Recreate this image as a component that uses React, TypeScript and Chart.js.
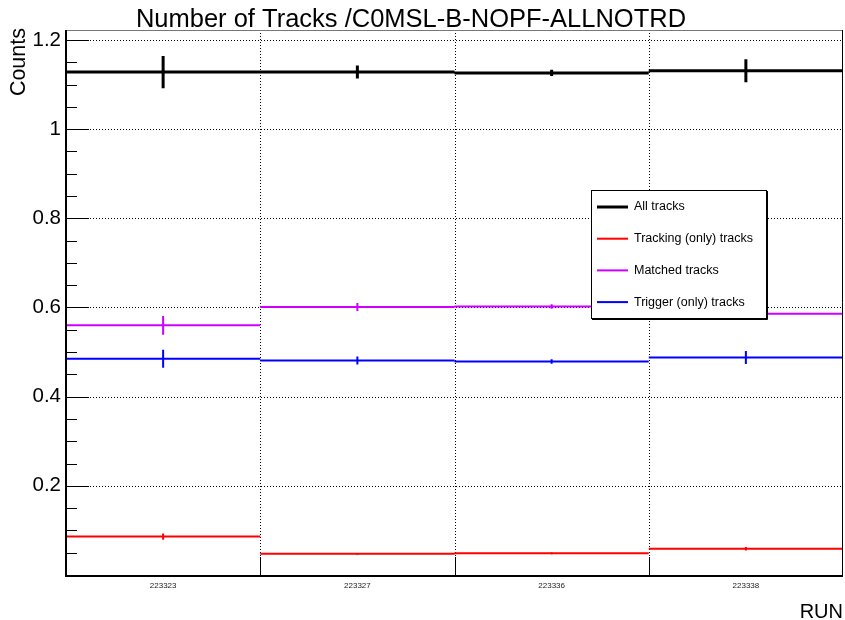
import React, { useEffect, useRef } from 'react';
import { Chart, registerables } from 'chart.js';
Chart.register(...registerables);

const runs = ['223323', '223327', '223336', '223338'];
const seriesNames = ['All tracks', 'Tracking (only) tracks', 'Matched tracks', 'Trigger (only) tracks'];
const allTracks = [1.128, 1.128, 1.126, 1.131];
const allTracksErr = [0.036, 0.0146, 0.007, 0.026];
const trackingOnly = [0.0863, 0.0475, 0.0487, 0.0587];
const trackingOnlyErr = [0.007, 0.002, 0.002, 0.004];
const matched = [0.56, 0.601, 0.602, 0.5857];
const matchedErr = [0.021, 0.009, 0.005, 0.013];
const triggerOnly = [0.485, 0.481, 0.4787, 0.4877];
const triggerOnlyErr = [0.02, 0.009, 0.005, 0.0146];
const yTicks = [0.2, 0.4, 0.6, 0.8, 1, 1.2];
const yTickLabels = ['0.2', '0.4', '0.6', '0.8', '1', '1.2'];
const yMinorStep = 0.05;
const yMin = 0;
const yMax = 1.2224;

const FONT = "'Liberation Sans', Arial, Helvetica, sans-serif";
const colors = ['#000000', '#ff0000', '#cc00ff', '#0000ff'];
const widths = [3, 2, 2, 2];

function stepData(vals: number[]) {
  const out: any[] = [];
  vals.forEach((v, i) => {
    out.push({ x: i, y: v }, { x: i + 1, y: v }, { x: i + 1, y: null });
  });
  return out;
}
function errData(vals: number[], errs: number[]) {
  const out: any[] = [];
  vals.forEach((v, i) => {
    out.push({ x: i + 0.5, y: v - errs[i] }, { x: i + 0.5, y: v + errs[i] }, { x: i + 0.5, y: null });
  });
  return out;
}

const rootStyle = {
  id: 'rootStyle',
  beforeDatasetsDraw(chart: any) {
    const { ctx, chartArea: a, scales } = chart;
    const x = scales.x, y = scales.y;
    ctx.save();
    ctx.strokeStyle = '#000';
    ctx.lineWidth = 1;
    ctx.setLineDash([1, 2]);
    yTicks.forEach((v) => {
      const py = Math.round(y.getPixelForValue(v)) + 0.5;
      ctx.beginPath();
      ctx.moveTo(a.left, py);
      ctx.lineTo(a.right, py);
      ctx.stroke();
    });
    for (let i = 1; i < runs.length; i++) {
      const px = Math.round(x.getPixelForValue(i)) + 0.5;
      ctx.beginPath();
      ctx.moveTo(px, a.top);
      ctx.lineTo(px, a.bottom);
      ctx.stroke();
    }
    ctx.setLineDash([]);
    for (let i = 1; i < runs.length; i++) {
      const px = Math.round(x.getPixelForValue(i)) + 0.5;
      ctx.beginPath();
      ctx.moveTo(px, a.bottom - 18);
      ctx.lineTo(px, a.bottom);
      ctx.stroke();
    }
    ctx.restore();
  },
  afterDatasetsDraw(chart: any) {
    const { ctx, chartArea: a, scales } = chart;
    const y = scales.y;
    ctx.save();
    // frame
    ctx.strokeStyle = '#777';
    ctx.lineWidth = 1;
    ctx.beginPath();
    ctx.moveTo(a.left, a.top + 0.5);
    ctx.lineTo(a.right, a.top + 0.5);
    ctx.stroke();
    ctx.strokeStyle = '#000';
    ctx.beginPath();
    ctx.moveTo(a.right - 0.5, a.top);
    ctx.lineTo(a.right - 0.5, a.bottom);
    ctx.stroke();
    ctx.lineWidth = 2;
    ctx.beginPath();
    ctx.moveTo(a.left, a.top);
    ctx.lineTo(a.left, a.bottom + 1);
    ctx.lineTo(a.right, a.bottom + 1);
    ctx.stroke();
    // y ticks
    ctx.lineWidth = 1;
    ctx.strokeStyle = '#000';
    for (let v = yMinorStep; v <= yMax + 1e-9; v += yMinorStep) {
      const vv = Math.round(v * 100) / 100;
      const major = yTicks.some((t) => Math.abs(t - vv) < 1e-6);
      const py = Math.round(y.getPixelForValue(vv)) + 0.5;
      ctx.beginPath();
      ctx.moveTo(a.left, py);
      ctx.lineTo(a.left + (major ? 23 : 11), py);
      ctx.stroke();
    }
    // legend
    const lx = 591, ly = 190, lw = 175, lh = 128;
    ctx.fillStyle = '#fff';
    ctx.fillRect(lx, ly, lw, lh);
    ctx.strokeStyle = '#000';
    ctx.lineWidth = 1;
    ctx.strokeRect(lx + 0.5, ly + 0.5, lw, lh);
    ctx.beginPath();
    ctx.moveTo(lx + 1, ly + lh + 1.5);
    ctx.lineTo(lx + lw + 1.5, ly + lh + 1.5);
    ctx.lineTo(lx + lw + 1.5, ly + 1);
    ctx.stroke();
    ctx.font = `12.5px ${FONT}`;
    ctx.textBaseline = 'middle';
    ctx.textAlign = 'left';
    seriesNames.forEach((name, k) => {
      const cy = ly + 17 + k * 31.7;
      ctx.strokeStyle = colors[k];
      ctx.lineWidth = widths[k];
      ctx.beginPath();
      ctx.moveTo(597, cy);
      ctx.lineTo(628, cy);
      ctx.stroke();
      ctx.fillStyle = '#000';
      ctx.fillText(name, 634, cy);
    });
    // title
    ctx.fillStyle = '#000';
    ctx.font = `25.5px ${FONT}`;
    ctx.textAlign = 'center';
    ctx.textBaseline = 'alphabetic';
    ctx.fillText('Number of Tracks /C0MSL-B-NOPF-ALLNOTRD', 411, 27);
    // axis titles
    ctx.font = `20px ${FONT}`;
    ctx.textAlign = 'right';
    ctx.fillText('RUN', 843, 618);
    ctx.save();
    ctx.translate(25, 28);
    ctx.rotate(-Math.PI / 2);
    ctx.font = `21.5px ${FONT}`;
    ctx.textAlign = 'right';
    ctx.textBaseline = 'alphabetic';
    ctx.fillText('Counts', 0, 0);
    ctx.restore();
    ctx.restore();
  },
};

export default function App() {
  const ref = useRef<HTMLCanvasElement>(null);
  useEffect(() => {
    if (!ref.current) return;
    const series = [
      [allTracks, allTracksErr],
      [trackingOnly, trackingOnlyErr],
      [matched, matchedErr],
      [triggerOnly, triggerOnlyErr],
    ];
    const datasets: any[] = [];
    series.forEach(([vals, errs], k) => {
      datasets.push({
        label: seriesNames[k],
        data: stepData(vals),
        borderColor: colors[k],
        borderWidth: widths[k],
        pointRadius: 0,
        spanGaps: false,
        tension: 0,
        borderCapStyle: 'butt',
      });
      datasets.push({
        label: seriesNames[k] + ' err',
        data: errData(vals, errs),
        borderColor: colors[k],
        borderWidth: widths[k],
        pointRadius: 0,
        spanGaps: false,
        tension: 0,
        borderCapStyle: 'butt',
      });
    });
    const chart = new Chart(ref.current, {
      type: 'line',
      data: { datasets },
      options: {
        animation: false,
        responsive: false,
        devicePixelRatio: 1,
        layout: { padding: { top: 30, right: 2, left: 0, bottom: 0 } },
        plugins: { legend: { display: false }, tooltip: { enabled: false }, title: { display: false } },
        scales: {
          x: {
            type: 'linear',
            min: 0,
            max: runs.length,
            grid: { display: false, drawTicks: false },
            border: { display: false },
            afterFit: (s: any) => { s.height = 45; },
            afterBuildTicks: (s: any) => { s.ticks = runs.map((_, i) => ({ value: i + 0.5 })); },
            ticks: {
              autoSkip: false,
              maxRotation: 0,
              padding: 6,
              color: '#222',
              font: { family: FONT, size: 8 },
              callback: (_v: any, i: number) => runs[i],
            },
          },
          y: {
            type: 'linear',
            min: yMin,
            max: yMax,
            grid: { display: false, drawTicks: false },
            border: { display: false },
            afterFit: (s: any) => { s.width = 66; },
            afterBuildTicks: (s: any) => { s.ticks = yTicks.map((value) => ({ value })); },
            ticks: {
              padding: 5,
              color: '#000',
              font: { family: FONT, size: 20.5 },
              callback: (v: any) => {
                const i = yTicks.findIndex((t) => Math.abs(t - Number(v)) < 1e-6);
                return i >= 0 ? yTickLabels[i] : '';
              },
            },
          },
        },
      },
      plugins: [rootStyle],
    });
    return () => chart.destroy();
  }, []);
  return (
    <div style={{ position: 'absolute', left: 0, top: 0, width: 845, height: 620, background: '#fff' }}>
      <canvas ref={ref} width={845} height={620} style={{ width: 845, height: 620, display: 'block' }} />
    </div>
  );
}
